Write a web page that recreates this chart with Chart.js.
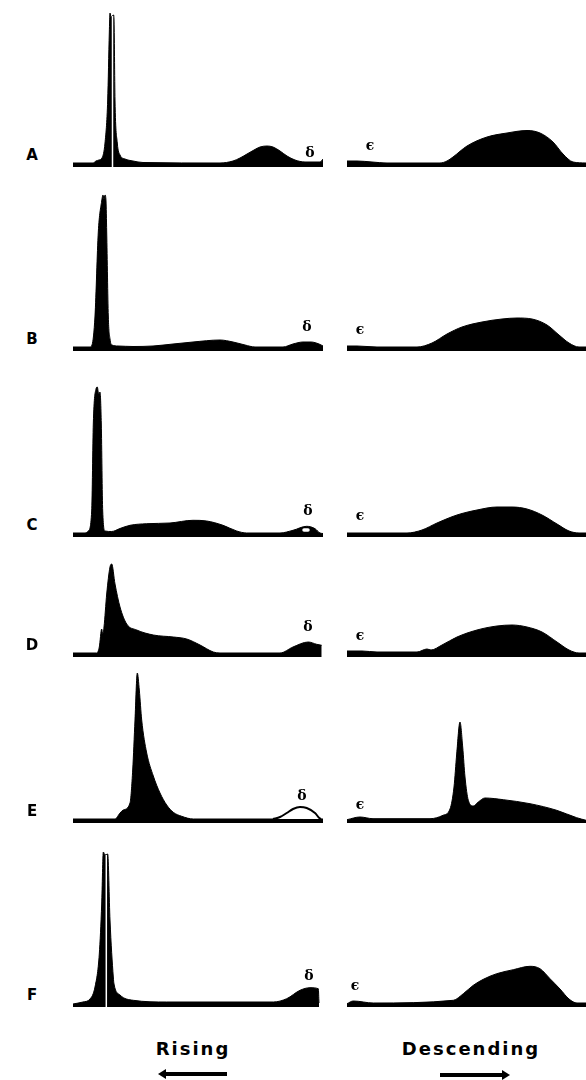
<!DOCTYPE html>
<html><head><meta charset="utf-8">
<script src="https://cdn.jsdelivr.net/npm/chart.js@4"></script>
<style>
html,body{margin:0;padding:0;background:#fff;}
#wrap{position:relative;width:586px;height:1080px;overflow:hidden;background:#fff;}
canvas{position:absolute;}
.lbl{position:absolute;font-family:"DejaVu Sans",sans-serif;font-weight:bold;color:#000;line-height:1;}
.row{font-size:15px;transform:translate(-50%,-50%);}
.gk{font-family:"DejaVu Serif",serif;font-weight:bold;font-size:14px;transform:translate(-50%,-50%);}
.dir{font-size:18px;letter-spacing:2px;transform:translate(-50%,-50%);white-space:nowrap;}
.arrow{position:absolute;height:4px;background:#000;}
.arrow.l::before{content:"";position:absolute;left:-7px;top:-3px;border-right:8px solid #000;border-top:5px solid transparent;border-bottom:5px solid transparent;}
.arrow.r::after{content:"";position:absolute;right:-7px;top:-3px;border-left:8px solid #000;border-top:5px solid transparent;border-bottom:5px solid transparent;}
</style></head>
<body><div id="wrap"></div>
<script>
// ---- data: [offset along the run, height of the profile] ----
const rowLabels = ["A","B","C","D","E","F"];
const directionLabels = ["Rising","Descending"];

const risingA = [[0,4],[20,4],[23,6],[26,7],[29,9],[32,24],[34.7,67],[36.3,134],[37,154],[38,150],[40.5,152],[41,148],[42,67],[44.3,24],[47,12],[52,8],[60,6],[70,4.5],[147,4],[160,6],[167,9],[174,13],[181,17],[187,20],[194,21],[200,20],[207,16],[214,11],[222,7],[232,5],[242,5],[247,5],[250,8]];
const descendingA = [[0,6],[10,6],[25,5],[40,4],[93,4],[100,6],[106,10],[120,21],[140,30],[160,34],[180,36.5],[193,34],[206,25],[216,13],[226,5],[239,4]];

const risingB = [[0,4],[17,4],[19,6],[22,35],[25.3,119],[28.7,150],[30,156],[31,152],[32,156],[33,150],[33.7,119],[35.3,35],[37,12],[39,6],[45,5],[60,4.5],[80,5],[100,7],[120,9],[147,11],[160,9],[172,6],[182,4],[210,4],[220,7],[230,9],[238,9],[246,7],[250,5]];
const descendingB = [[0,5],[10,5],[30,4],[70,4],[85,8],[100,17],[115,24],[135,29],[155,32],[170,33],[185,32],[200,26],[212,16],[222,8],[232,4],[239,4]];

const risingC = [[0,4],[12,4],[15.3,6],[18.7,26],[20.3,113],[23,148],[24.3,150],[25.7,143],[27,145],[28.3,113],[29.7,26],[32,6],[38.7,5.5],[47,8.5],[57,11.7],[73.7,13.3],[97,14],[120,16.7],[133.7,16],[150,11.7],[163.7,6],[173.7,4],[207,4],[220,6.7],[233.7,10.7],[242,8.3],[247,4],[250,3.5]];
const descendingC = [[0,4],[60,4],[75,7],[90,14],[110,22],[130,27],[150,30],[165,30],[180,28],[195,22],[210,13],[222,6],[232,4],[239,4]];

const risingD = [[0,4],[23.7,4],[26.3,10],[28.7,28],[29.7,23],[31,30],[33.7,63],[37,90],[38.7,93],[42,73],[47,50],[53.7,33],[63.7,27],[80.3,22],[100.3,20],[113.7,18],[127,12],[140.3,5],[147,4],[207,4],[220,10],[235.3,15],[243.7,12.7],[248.7,11.7]];
const descendingD = [[0,6],[15,6],[30,5],[70,5],[80,8],[84,7],[95,12],[110,20],[130,27],[150,31],[165,32],[180,30],[195,25],[210,15],[222,7],[232,4],[239,4]];

const risingE = [[0,4],[42,4],[47,10],[50.3,13],[57,20],[59.7,53],[62,103],[64.3,150],[66.3,133],[68.7,103],[73.7,70],[80.3,47],[87,30],[93.7,18],[100.3,10.7],[108.7,6.7],[120.3,4],[250,4]];
const deltaE = [[200,4],[207,6],[213.7,10],[220,14],[227,16],[233.7,15],[242,10],[246.3,5],[248,4]];
const descendingE = [[0,3.3],[13,6],[26,4.3],[83,4.3],[96,7.7],[103,14],[107,36],[109.7,69],[113,101],[115.7,76],[118,46],[121.3,22.7],[126.3,17],[131.3,21],[138,25],[156.3,23.3],[183,19.3],[209.7,12.7],[229.7,5.3],[239,2.7]];

const risingF = [[0,3],[10,5],[17,8],[22,20],[26.3,53],[28.7,103],[30.3,155],[32,152],[34.7,153],[37,87],[40.3,30],[41,23],[47,12],[60.3,6.7],[93.7,5],[200.3,5],[213.7,8.3],[227,16.7],[237,19.3],[245.3,18.3],[246,4]];
const descendingF = [[0,3.3],[6.3,6],[26.3,4],[106.3,6.7],[116.3,13.3],[126.3,21.7],[136.3,27.7],[149.7,33.3],[166.3,37.3],[183,40.7],[193,38.3],[203,28.3],[213,18],[222,8],[230,4],[239,4]];

// thin white streaks inside the sharp rising peaks
const streakA = [[39.5,0],[39.5,151]];
const streakF = [[33.3,0],[33.3,152]];
// small white hole in C's delta hump
const holeC = [[231,7],[235,7]];

// ---- layout ----
const W_L = 250, W_R = 239, H = 170;
const X_L = 73, X_R = 347;
const baselines = [167, 351, 537, 657, 823, 1007];
const rising = [risingA, risingB, risingC, risingD, risingE, risingF];
const descending = [descendingA, descendingB, descendingC, descendingD, descendingE, descendingF];
const deltaOffsets = [[310,15],[307,25],[308,27],[308,31],[302,28],[309,32]];
const epsOffsets = [[370,22],[360,22],[360,22],[360,22],[360,19],[355,22]];

const wrap = document.getElementById('wrap');
const toPts = a => a.map(p => ({x:p[0], y:p[1]}));

function area(pts, extra){
  return Object.assign({data: toPts(pts), borderColor:'#000', backgroundColor:'#000', borderWidth:1,
    fill:'origin', pointRadius:0, cubicInterpolationMode:'monotone', order:2}, extra||{});
}
function panel(left, top, w, datasets){
  const c = document.createElement('canvas');
  c.width = w; c.height = H;
  c.style.left = left+'px'; c.style.top = top+'px';
  c.style.width = w+'px'; c.style.height = H+'px';
  wrap.appendChild(c);
  new Chart(c, {type:'line', data:{datasets},
    options:{responsive:false, animation:false, devicePixelRatio:1,
      layout:{padding:0},
      plugins:{legend:{display:false}, tooltip:{enabled:false}},
      scales:{x:{type:'linear', display:false, min:0, max:w}, y:{display:false, min:0, max:H}}}});
}
function text(cls, str, x, y){
  const d = document.createElement('div');
  d.className = 'lbl '+cls; d.textContent = str;
  d.style.left = x+'px'; d.style.top = y+'px';
  wrap.appendChild(d);
}

for (let i=0;i<6;i++){
  const top = baselines[i]-H;
  const ds = [area(rising[i])];
  if (i===0) ds.push(area(streakA,{borderColor:'#fff', borderWidth:1.5, fill:false, order:1, cubicInterpolationMode:'default'}));
  if (i===5) ds.push(area(streakF,{borderColor:'#fff', borderWidth:1.5, fill:false, order:1, cubicInterpolationMode:'default'}));
  if (i===2) ds.push(area(holeC,{borderColor:'#fff', borderWidth:3.5, borderCapStyle:'round', fill:false, order:1}));
  if (i===4) ds.push(area(deltaE,{backgroundColor:'#fff', borderWidth:2, fill:{value:4}, order:1}));
  panel(X_L, top, W_L, ds);
  panel(X_R, top, W_R, [area(descending[i])]);
  text('row', rowLabels[i], 32, baselines[i]-12);
  text('gk', 'δ', deltaOffsets[i][0], baselines[i]-deltaOffsets[i][1]);
  text('gk', 'ϵ', epsOffsets[i][0], baselines[i]-epsOffsets[i][1]);
}
text('dir', directionLabels[0], 193, 1049);
text('dir', directionLabels[1], 471, 1049);
const a1 = document.createElement('div'); a1.className='arrow l';
a1.style.left='165px'; a1.style.top='1072px'; a1.style.width='62px'; wrap.appendChild(a1);
const a2 = document.createElement('div'); a2.className='arrow r';
a2.style.left='440px'; a2.style.top='1073px'; a2.style.width='63px'; wrap.appendChild(a2);
</script></body></html>
